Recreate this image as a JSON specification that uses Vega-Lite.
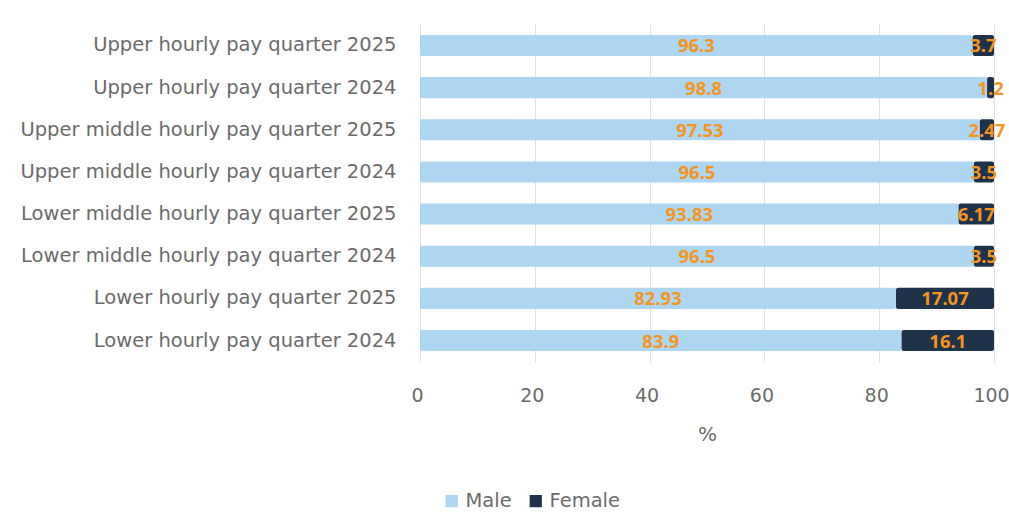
{
  "$schema": "https://vega.github.io/schema/vega-lite/v6.json",
  "autosize": {"type": "none"},
  "width": 574,
  "height": 338,
  "padding": {"left": 420, "top": 24, "right": 15, "bottom": 150},
  "background": "white",
  "config": {
    "font": "DejaVu Sans",
    "view": {"stroke": null}
  },
  "data": {
    "values": [
      {"quartile": "Upper hourly pay quarter 2025", "sex": "Male", "order": 1, "pct": 96.3},
      {"quartile": "Upper hourly pay quarter 2025", "sex": "Female", "order": 2, "pct": 3.7},
      {"quartile": "Upper hourly pay quarter 2024", "sex": "Male", "order": 1, "pct": 98.8},
      {"quartile": "Upper hourly pay quarter 2024", "sex": "Female", "order": 2, "pct": 1.2},
      {"quartile": "Upper middle hourly pay quarter 2025", "sex": "Male", "order": 1, "pct": 97.53},
      {"quartile": "Upper middle hourly pay quarter 2025", "sex": "Female", "order": 2, "pct": 2.47},
      {"quartile": "Upper middle hourly pay quarter 2024", "sex": "Male", "order": 1, "pct": 96.5},
      {"quartile": "Upper middle hourly pay quarter 2024", "sex": "Female", "order": 2, "pct": 3.5},
      {"quartile": "Lower middle hourly pay quarter 2025", "sex": "Male", "order": 1, "pct": 93.83},
      {"quartile": "Lower middle hourly pay quarter 2025", "sex": "Female", "order": 2, "pct": 6.17},
      {"quartile": "Lower middle hourly pay quarter 2024", "sex": "Male", "order": 1, "pct": 96.5},
      {"quartile": "Lower middle hourly pay quarter 2024", "sex": "Female", "order": 2, "pct": 3.5},
      {"quartile": "Lower hourly pay quarter 2025", "sex": "Male", "order": 1, "pct": 82.93},
      {"quartile": "Lower hourly pay quarter 2025", "sex": "Female", "order": 2, "pct": 17.07},
      {"quartile": "Lower hourly pay quarter 2024", "sex": "Male", "order": 1, "pct": 83.9},
      {"quartile": "Lower hourly pay quarter 2024", "sex": "Female", "order": 2, "pct": 16.1}
    ]
  },
  "transform": [
    {"stack": "pct", "groupby": ["quartile"], "sort": [{"field": "order", "order": "ascending"}], "as": ["s0", "s1"]}
  ],
  "encoding": {
    "y": {
      "field": "quartile",
      "type": "nominal",
      "sort": null,
      "scale": {"paddingInner": 0.5, "paddingOuter": 0.26},
      "axis": {
        "title": null,
        "ticks": false,
        "domain": false,
        "labelFontSize": 19.5,
        "labelColor": "#6b6b6b",
        "labelPadding": 24,
        "labelLimit": 500
      }
    }
  },
  "layer": [
    {
      "mark": {"type": "bar", "cornerRadius": 2},
      "encoding": {
        "x": {
          "field": "s0",
          "type": "quantitative",
          "scale": {"domain": [0, 100]},
          "axis": {
            "values": [0, 20, 40, 60, 80, 100],
            "title": "%",
            "titleFontSize": 20,
            "titleFontWeight": "normal",
            "titleColor": "#6b6b6b",
            "titlePadding": 19,
            "labelFontSize": 19,
            "labelColor": "#6b6b6b",
            "labelPadding": 24,
            "labelOffset": -3,
            "ticks": false,
            "domain": false,
            "grid": true,
            "gridColor": "#e0e0e0",
            "labelFlush": false
          }
        },
        "x2": {"field": "s1"},
        "color": {
          "field": "sex",
          "type": "nominal",
          "scale": {"domain": ["Male", "Female"], "range": ["#acd6f1", "#1e3249"]},
          "legend": {
            "title": null,
            "orient": "none",
            "direction": "horizontal",
            "legendX": 22,
            "legendY": 467,
            "symbolType": "square",
            "symbolSize": 150,
            "symbolStrokeWidth": 0,
            "labelFontSize": 19.5,
            "labelColor": "#6b6b6b",
            "columnPadding": 14,
            "labelOffset": 4
          }
        }
      }
    },
    {
      "transform": [
        {"fold": ["s0", "s1"], "as": ["edge", "pos"]},
        {"aggregate": [{"op": "mean", "field": "pos", "as": "mid"}], "groupby": ["quartile", "sex", "pct"]}
      ],
      "mark": {"type": "text", "font": "Noto Sans", "fontWeight": "bold", "fontSize": 18.5, "color": "#f7941d", "baseline": "middle", "align": "center", "dy": 1},
      "encoding": {
        "x": {"field": "mid", "type": "quantitative"},
        "text": {"field": "pct", "type": "quantitative"}
      }
    }
  ]
}
